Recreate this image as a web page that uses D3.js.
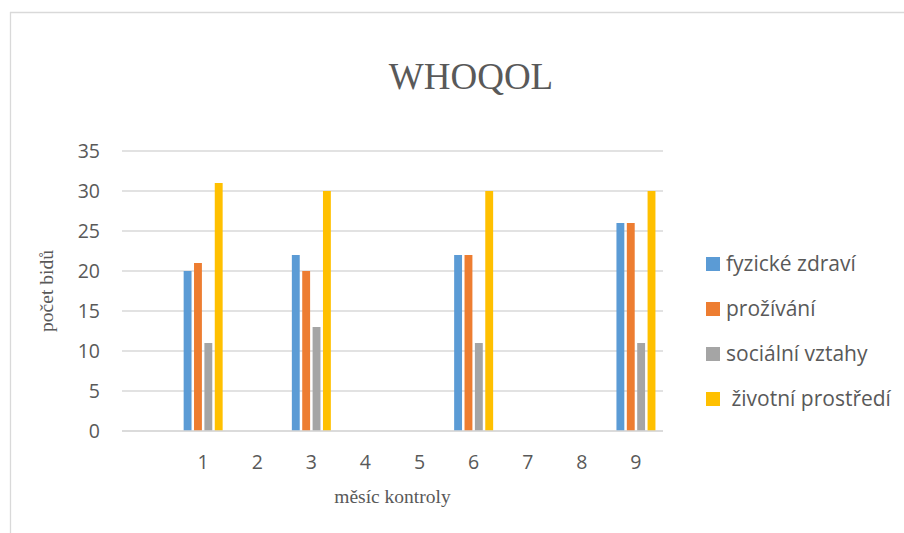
<!DOCTYPE html>
<html>
<head>
<meta charset="utf-8">
<script src="https://cdn.jsdelivr.net/npm/d3@7"></script>
<style>
  html, body { margin: 0; padding: 0; background: #fff; }
  svg { display: block; }
</style>
</head>
<body>
<svg id="chart" width="904" height="533"></svg>
<script>
// Months of follow-up (first slot is an empty category)
const months = ["", "1", "2", "3", "4", "5", "6", "7", "8", "9"];
const seriesNames = ["fyzické zdraví", "prožívání", "sociální vztahy", " životní prostředí"];
const seriesColors = ["#5b9bd5", "#ed7d31", "#a5a5a5", "#ffc000"];

// Scores per month; null = no measurement that month
const fyzickeZdravi    = [null, 20, null, 22, null, null, 22, null, null, 26];
const prozivani        = [null, 21, null, 20, null, null, 22, null, null, 26];
const socialniVztahy   = [null, 11, null, 13, null, null, 11, null, null, 11];
const zivotniProstredi = [null, 31, null, 30, null, null, 30, null, null, 30];
const seriesValues = [fyzickeZdravi, prozivani, socialniVztahy, zivotniProstredi];

const yTicks = [0, 5, 10, 15, 20, 25, 30, 35];

const svg = d3.select("#chart");
const textColor = "#595959";
const gridColor = "#d9d9d9";

// outer frame (top and left edges visible)
svg.append("line").attr("x1", 10).attr("y1", 12.5).attr("x2", 904).attr("y2", 12.5)
  .attr("stroke", gridColor).attr("stroke-width", 1.3);
svg.append("line").attr("x1", 10.5).attr("y1", 12).attr("x2", 10.5).attr("y2", 533)
  .attr("stroke", gridColor).attr("stroke-width", 1.3);

const plot = { left: 122, right: 663, top: 151, bottom: 431 };

const x = d3.scaleBand().domain(months).range([plot.left, plot.right]).paddingInner(0).paddingOuter(0);
const y = d3.scaleLinear().domain([0, 35]).range([plot.bottom, plot.top]);
const xs = d3.scaleBand().domain(d3.range(seriesNames.length)).range([-19.5, 19.5]).paddingInner(0.24);

// horizontal gridlines
svg.append("g")
  .selectAll("line")
  .data(yTicks)
  .join("line")
  .attr("x1", plot.left).attr("x2", plot.right)
  .attr("y1", d => y(d)).attr("y2", d => y(d))
  .attr("stroke", gridColor).attr("stroke-width", 1.5);

// y axis labels
const yAxis = d3.axisLeft(y).tickValues(yTicks).tickSize(0).tickPadding(0);
const gy = svg.append("g").attr("transform", `translate(${plot.left - 22},0)`).call(yAxis);
gy.select(".domain").remove();
gy.selectAll("text")
  .attr("font-family", "Open Sans, Liberation Sans, sans-serif")
  .attr("font-size", 19.5).attr("fill", textColor);

// bars
const rows = [];
seriesValues.forEach((vals, si) => {
  vals.forEach((v, mi) => {
    if (v !== null) rows.push({ si, month: months[mi], value: v });
  });
});
svg.append("g")
  .selectAll("rect")
  .data(rows)
  .join("rect")
  .attr("x", d => x(d.month) + x.bandwidth() / 2 + xs(d.si))
  .attr("width", xs.bandwidth())
  .attr("y", d => y(d.value))
  .attr("height", d => y(0) - y(d.value))
  .attr("fill", d => seriesColors[d.si]);

// category axis
const xAxis = d3.axisBottom(x).tickSize(0).tickPadding(0);
const gx = svg.append("g").attr("transform", `translate(0,${plot.bottom})`).call(xAxis);
gx.select(".domain").attr("stroke", gridColor).attr("stroke-width", 1.5)
  .attr("d", `M${plot.left},0H${plot.right}`);
gx.selectAll("text")
  .attr("font-family", "Open Sans, Liberation Sans, sans-serif")
  .attr("font-size", 19.5).attr("fill", textColor)
  .attr("dy", null).attr("y", 38);

// title
svg.append("text")
  .attr("x", 471).attr("y", 89)
  .attr("text-anchor", "middle")
  .attr("font-family", "Liberation Serif, Times New Roman, serif")
  .attr("font-size", 37).attr("fill", textColor)
  .text("WHOQOL");

// axis titles
svg.append("text")
  .attr("x", (plot.left + plot.right) / 2).attr("y", 503)
  .attr("text-anchor", "middle")
  .attr("font-family", "Liberation Serif, Times New Roman, serif")
  .attr("font-size", 19.5).attr("fill", textColor)
  .text("měsíc kontroly");

svg.append("text")
  .attr("transform", `translate(53,${(plot.top + plot.bottom) / 2}) rotate(-90)`)
  .attr("text-anchor", "middle")
  .attr("font-family", "Liberation Serif, Times New Roman, serif")
  .attr("font-size", 19.5).attr("fill", textColor)
  .text("počet bidů");

// legend
const legend = svg.append("g");
const legendY = d3.scalePoint().domain(d3.range(seriesNames.length)).range([264, 399]);
const items = legend.selectAll("g").data(seriesNames).join("g")
  .attr("transform", (d, i) => `translate(706,${legendY(i)})`);
items.append("rect").attr("x", 0).attr("y", -7).attr("width", 14).attr("height", 14)
  .attr("fill", (d, i) => seriesColors[i]);
items.append("text").attr("x", 20).attr("y", 0).attr("dy", "0.35em")
  .attr("xml:space", "preserve").style("white-space", "pre")
  .attr("font-family", "Open Sans, Liberation Sans, sans-serif")
  .attr("font-size", 21).attr("fill", textColor)
  .text(d => d);
</script>
</body>
</html>
